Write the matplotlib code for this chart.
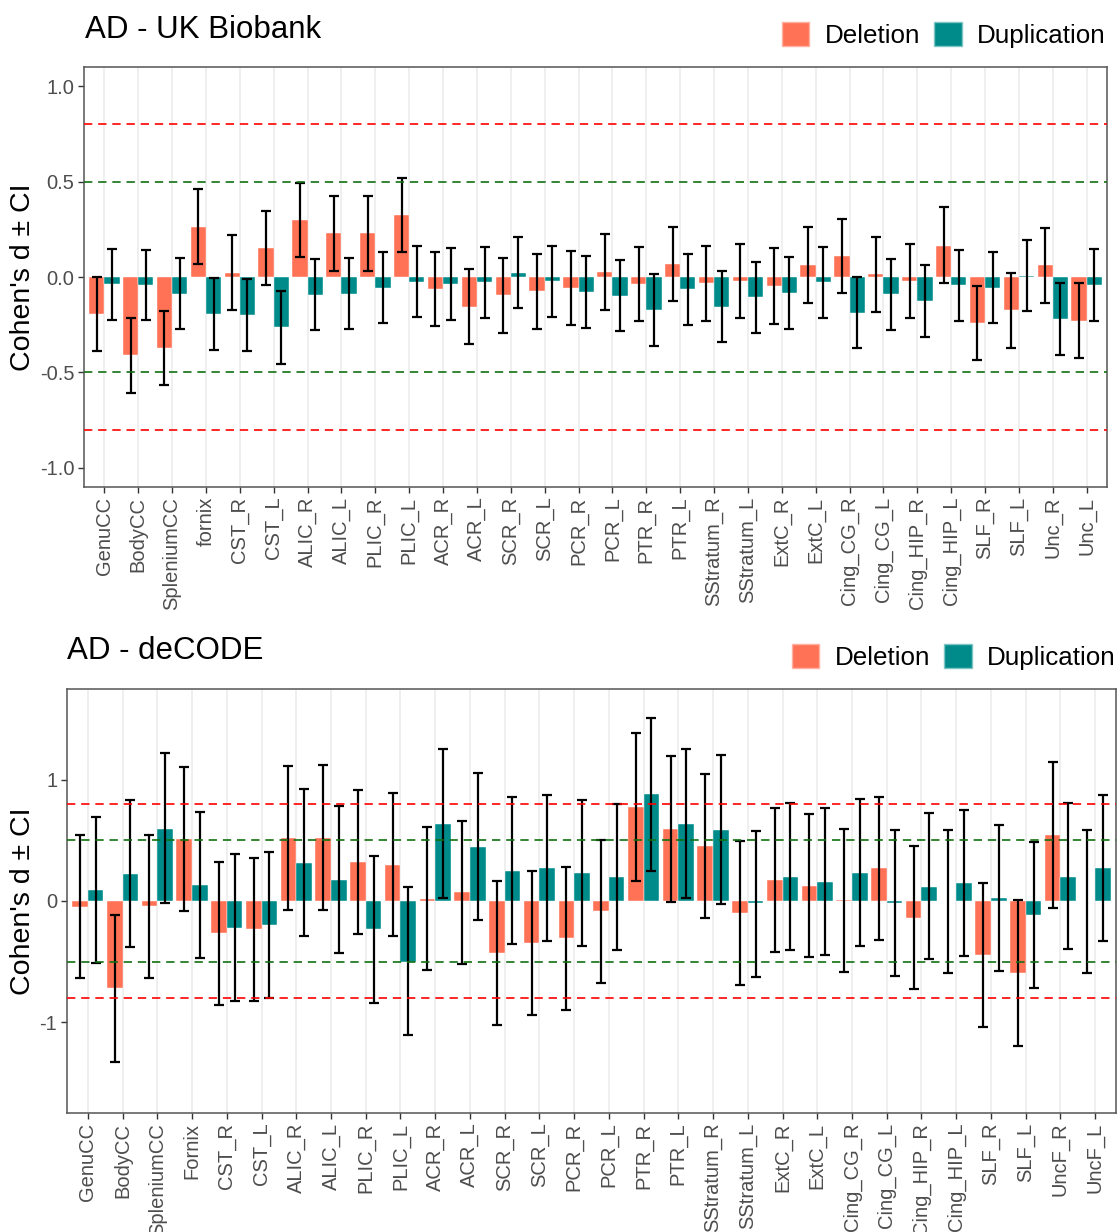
import numpy as np
import matplotlib
matplotlib.use('Agg')
import matplotlib.pyplot as plt
import matplotlib.transforms as mtransforms
from matplotlib.patches import Patch

plt.rcParams['font.family'] = ['Liberation Sans', 'DejaVu Sans']

# Tract names
regions_ukb = ['GenuCC', 'BodyCC', 'SpleniumCC', 'fornix', 'CST_R', 'CST_L', 'ALIC_R', 'ALIC_L',
               'PLIC_R', 'PLIC_L', 'ACR_R', 'ACR_L', 'SCR_R', 'SCR_L', 'PCR_R', 'PCR_L', 'PTR_R',
               'PTR_L', 'SStratum_R', 'SStratum_L', 'ExtC_R', 'ExtC_L', 'Cing_CG_R', 'Cing_CG_L',
               'Cing_HIP_R', 'Cing_HIP_L', 'SLF_R', 'SLF_L', 'Unc_R', 'Unc_L']
regions_decode = ['GenuCC', 'BodyCC', 'SpleniumCC', 'Fornix', 'CST_R', 'CST_L', 'ALIC_R', 'ALIC_L',
                  'PLIC_R', 'PLIC_L', 'ACR_R', 'ACR_L', 'SCR_R', 'SCR_L', 'PCR_R', 'PCR_L', 'PTR_R',
                  'PTR_L', 'SStratum_R', 'SStratum_L', 'ExtC_R', 'ExtC_L', 'Cing_CG_R', 'Cing_CG_L',
                  'Cing_HIP_R', 'Cing_HIP_L', 'SLF_R', 'SLF_L', 'UncF_R', 'UncF_L']

# UK Biobank: Cohen's d and CI bounds
ukb_del = [-0.193, -0.41, -0.372, 0.263, 0.023, 0.153, 0.298, 0.228, 0.228, 0.327,
           -0.063, -0.155, -0.096, -0.075, -0.057, 0.024, -0.037, 0.066, -0.031, -0.021,
           -0.047, 0.061, 0.108, 0.014, -0.019, 0.165, -0.24, -0.174, 0.061, -0.228]
ukb_del_lo = [-0.39, -0.607, -0.567, 0.068, -0.171, -0.044, 0.103, 0.033, 0.033, 0.132,
              -0.259, -0.352, -0.292, -0.272, -0.254, -0.171, -0.233, -0.125, -0.228, -0.216,
              -0.244, -0.136, -0.085, -0.181, -0.216, -0.03, -0.437, -0.371, -0.134, -0.423]
ukb_del_hi = [0.0, -0.216, -0.178, 0.461, 0.221, 0.348, 0.494, 0.425, 0.425, 0.52,
              0.132, 0.042, 0.099, 0.118, 0.138, 0.223, 0.157, 0.263, 0.164, 0.172,
              0.15, 0.261, 0.303, 0.211, 0.174, 0.366, -0.045, 0.023, 0.259, -0.033]
ukb_dup = [-0.038, -0.042, -0.087, -0.195, -0.198, -0.263, -0.092, -0.087, -0.056, -0.024,
           -0.035, -0.026, 0.021, -0.021, -0.077, -0.097, -0.171, -0.064, -0.155, -0.104,
           -0.084, -0.028, -0.186, -0.091, -0.125, -0.042, -0.056, 0.007, -0.218, -0.042]
ukb_dup_lo = [-0.226, -0.226, -0.272, -0.383, -0.385, -0.454, -0.279, -0.273, -0.24, -0.21,
              -0.225, -0.216, -0.164, -0.207, -0.265, -0.284, -0.359, -0.254, -0.341, -0.292,
              -0.272, -0.216, -0.372, -0.277, -0.313, -0.23, -0.242, -0.178, -0.407, -0.23]
ukb_dup_hi = [0.146, 0.144, 0.097, -0.007, -0.012, -0.075, 0.094, 0.097, 0.13, 0.162,
              0.15, 0.158, 0.209, 0.164, 0.108, 0.087, 0.016, 0.12, 0.031, 0.078,
              0.103, 0.157, 0.0, 0.094, 0.061, 0.144, 0.129, 0.195, -0.033, 0.146]

# deCODE: Cohen's d and CI bounds
dec_del = [-0.047, -0.719, -0.044, 0.508, -0.266, -0.23, 0.516, 0.521, 0.318, 0.299,
           0.019, 0.074, -0.428, -0.346, -0.307, -0.082, 0.774, 0.593, 0.453, -0.099,
           0.17, 0.126, 0.008, 0.269, -0.137, 0.003, -0.444, -0.593, 0.543, 0.0]
dec_del_lo = [-0.631, -1.322, -0.631, -0.085, -0.859, -0.82, -0.077, -0.074, -0.272, -0.291,
              -0.565, -0.516, -1.021, -0.938, -0.9, -0.672, 0.165, -0.005, -0.143, -0.689,
              -0.42, -0.458, -0.582, -0.321, -0.727, -0.595, -1.04, -1.193, -0.055, -0.59]
dec_del_hi = [0.543, -0.115, 0.543, 1.106, 0.321, 0.357, 1.114, 1.117, 0.914, 0.889,
              0.612, 0.661, 0.167, 0.244, 0.283, 0.502, 1.383, 1.193, 1.045, 0.491,
              0.763, 0.719, 0.595, 0.859, 0.453, 0.582, 0.151, 0.005, 1.144, 0.584]
dec_dup = [0.088, 0.222, 0.595, 0.129, -0.219, -0.198, 0.31, 0.176, -0.23, -0.502,
           0.636, 0.447, 0.25, 0.269, 0.228, 0.195, 0.878, 0.636, 0.584, -0.014,
           0.2, 0.156, 0.23, -0.014, 0.118, 0.148, 0.022, -0.115, 0.2, 0.269]
dec_dup_lo = [-0.51, -0.376, -0.016, -0.469, -0.823, -0.801, -0.291, -0.425, -0.837, -1.106,
              0.022, -0.159, -0.354, -0.332, -0.373, -0.403, 0.25, 0.022, -0.027, -0.623,
              -0.401, -0.444, -0.37, -0.617, -0.48, -0.453, -0.576, -0.713, -0.398, -0.332]
dec_dup_hi = [0.691, 0.829, 1.215, 0.73, 0.384, 0.403, 0.919, 0.785, 0.37, 0.112,
              1.254, 1.056, 0.853, 0.875, 0.834, 0.798, 1.506, 1.254, 1.199, 0.576,
              0.804, 0.763, 0.837, 0.582, 0.722, 0.752, 0.628, 0.488, 0.804, 0.875]

DEL_COLOR = '#FF7256'
DUP_COLOR = '#008B8B'
TICK_COLOR = '#4D4D4D'
W = 0.45


def draw_panel(ax, labels, d, d_lo, d_hi, u, u_lo, u_hi, ylim, yticks, yticklabels):
    x = np.arange(len(labels))
    ax.set_axisbelow(True)
    ax.grid(axis='x', color='#EBEBEB', linewidth=1.1)
    ax.grid(axis='y', visible=False)

    for vals, lo, hi, off, col in [(d, d_lo, d_hi, -W / 2, DEL_COLOR),
                                   (u, u_lo, u_hi, W / 2, DUP_COLOR)]:
        vals = np.array(vals)
        lo = np.array(lo)
        hi = np.array(hi)
        ax.bar(x + off, vals, W, color=col, edgecolor='white', linewidth=0.3, zorder=2)
        ax.errorbar(x + off, vals, yerr=[np.abs(vals - lo), np.abs(hi - vals)], fmt='none',
                    ecolor='black', elinewidth=1.6, capsize=3.5, capthick=1.6, zorder=3)

    for y, c in [(0.8, 'red'), (-0.8, 'red'), (0.5, '#127012'), (-0.5, '#127012')]:
        ax.axhline(y, color=c, linestyle=(0, (5, 3.5)), linewidth=1.2, zorder=4)

    ax.set_xlim(-0.6, len(labels) - 0.4)
    ax.set_ylim(*ylim)
    ax.set_xticks(x)
    ax.set_xticklabels(labels, rotation=90, fontsize=14.5, color=TICK_COLOR)
    ax.set_yticks(yticks)
    ax.set_yticklabels(yticklabels, fontsize=14.5, color=TICK_COLOR)
    ax.tick_params(axis='both', color='#333333', length=4, width=1, pad=3)
    for s in ax.spines.values():
        s.set_color('#555555')
        s.set_linewidth(1.1)
    ax.set_ylabel("Cohen's d ± CI", fontsize=20.5, va='center')
    ax.yaxis.set_label_coords(23 / 1117, 0.5,
                              transform=mtransforms.blended_transform_factory(fig.transFigure, ax.transAxes))


fig = plt.figure(figsize=(11.17, 12.32), dpi=100)

ax1 = fig.add_axes([84 / 1117, 1 - 487 / 1232, 1023 / 1117, 420 / 1232])
draw_panel(ax1, regions_ukb, ukb_del, ukb_del_lo, ukb_del_hi, ukb_dup, ukb_dup_lo, ukb_dup_hi,
           (-1.1, 1.1), [-1.0, -0.5, 0.0, 0.5, 1.0], ['-1.0', '-0.5', '0.0', '0.5', '1.0'])

ax2 = fig.add_axes([67 / 1117, 1 - 1113 / 1232, 1049 / 1117, 424 / 1232])
draw_panel(ax2, regions_decode, dec_del, dec_del_lo, dec_del_hi, dec_dup, dec_dup_lo, dec_dup_hi,
           (-1.745, 1.745), [-1, 0, 1], ['-1', '0', '1'])

fig.text(85 / 1117, 1 - 30 / 1232, 'AD - UK Biobank', fontsize=22.5, va='center', ha='left')
fig.text(67 / 1117, 1 - 651 / 1232, 'AD - deCODE', fontsize=22.5, va='center', ha='left')

handles = [Patch(facecolor=DEL_COLOR, edgecolor='#FFB0A0', label='Deletion'),
           Patch(facecolor=DUP_COLOR, edgecolor='#80C5C5', label='Duplication')]
for xr, yc in [(1106 / 1117, 1 - 35 / 1232), (1116 / 1117, 1 - 657 / 1232)]:
    fig.legend(handles=handles, loc='center right', bbox_to_anchor=(xr, yc), ncol=2,
               frameon=False, fontsize=18.7, handlelength=1.05, handleheight=1.05,
               handletextpad=0.6, columnspacing=0.55, borderpad=0, borderaxespad=0)

fig.savefig('out.png', dpi=100)
